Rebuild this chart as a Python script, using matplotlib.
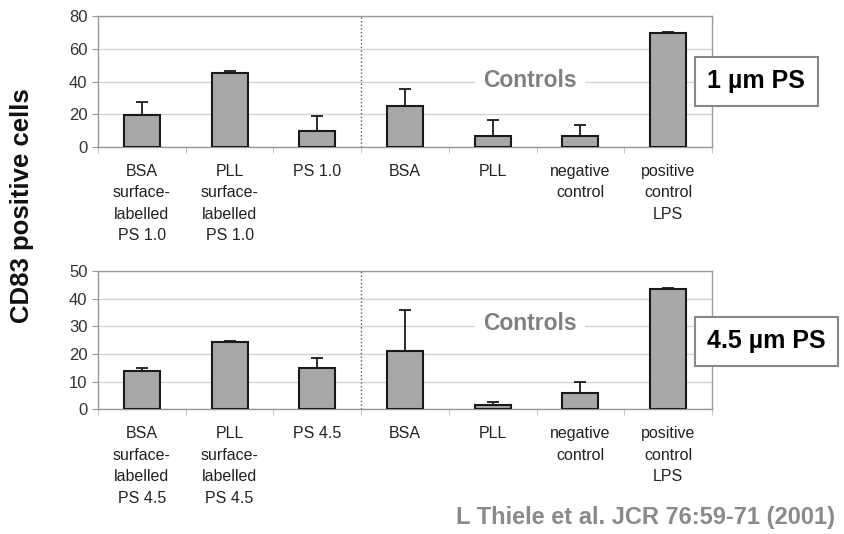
import matplotlib.pyplot as plt
import numpy as np

plt.rcParams['font.family'] = ['Liberation Sans', 'DejaVu Sans']

# Data
labels_top = ['BSA\nsurface-\nlabelled\nPS 1.0', 'PLL\nsurface-\nlabelled\nPS 1.0', 'PS 1.0',
              'BSA', 'PLL', 'negative\ncontrol', 'positive\ncontrol\nLPS']
values_top = [19.5, 45.0, 9.8, 25.0, 6.9, 6.9, 69.6]
err_top = [8.0, 1.4, 8.9, 10.6, 9.4, 6.5, 0.8]

labels_bot = ['BSA\nsurface-\nlabelled\nPS 4.5', 'PLL\nsurface-\nlabelled\nPS 4.5', 'PS 4.5',
              'BSA', 'PLL', 'negative\ncontrol', 'positive\ncontrol\nLPS']
values_bot = [13.8, 24.3, 14.9, 21.2, 1.7, 6.0, 43.4]
err_bot = [1.0, 0.4, 3.8, 14.7, 1.0, 3.9, 0.5]

fig = plt.figure(figsize=(8.45, 5.34), dpi=100)
ax1 = fig.add_axes([0.116, 0.7247, 0.7266, 0.2453])
ax2 = fig.add_axes([0.116, 0.2335, 0.7266, 0.259])


def draw(ax, labels, values, errs, ymax, step, controls_y):
    x = np.arange(len(values))
    ax.set_axisbelow(True)
    ax.yaxis.grid(True, color='#d4d4d4', linewidth=1)
    ax.bar(x, values, width=0.41, color='#a8a8a8', edgecolor='#1a1a1a', linewidth=1.5, zorder=3)
    ax.errorbar(x, values, yerr=[np.zeros(len(errs)), errs], fmt='none',
                ecolor='#1a1a1a', elinewidth=1.3, capsize=4, capthick=1.3, zorder=2)
    ax.set_xlim(-0.5, len(values) - 0.5)
    ax.set_ylim(0, ymax)
    ax.set_yticks(np.arange(0, ymax + 1, step))
    ax.set_xticks(x)
    ax.set_xticklabels(labels, fontsize=11.5, linespacing=1.55, color='#222222')
    ax.set_xticks(np.arange(-0.5, len(values), 1), minor=True)
    ax.tick_params(axis='x', which='major', length=0, pad=12)
    ax.tick_params(axis='x', which='minor', length=4, color='#bbbbbb', direction='out')
    ax.tick_params(axis='y', length=4, color='#999999', labelsize=12, labelcolor='#333333')
    for s in ax.spines.values():
        s.set_color('#999999')
        s.set_linewidth(1)
    ax.axvline(2.5, color='#555555', linestyle=':', linewidth=1, zorder=1)
    ax.text(4.43, controls_y, 'Controls', fontsize=16.5, fontweight='bold', color='#808080',
            ha='center', va='center', zorder=4,
            bbox=dict(facecolor='white', edgecolor='none', pad=6))


draw(ax1, labels_top, values_top, err_top, 80, 20, 40.9)
draw(ax2, labels_bot, values_bot, err_bot, 50, 10, 31.1)

# Size labels in boxes
box = dict(facecolor='white', edgecolor='#888888', linewidth=1.5, boxstyle='square,pad=0.5')
fig.text(0.837, 0.848, '1 µm PS', fontsize=18, fontweight='bold', color='black',
         ha='left', va='center', bbox=box)
fig.text(0.837, 0.361, '4.5 µm PS', fontsize=18, fontweight='bold', color='black',
         ha='left', va='center', bbox=box)

fig.text(0.026, 0.614, 'CD83 positive cells', rotation=90, fontsize=18.5, fontweight='bold',
         ha='center', va='center', color='#111111')
fig.text(0.988, 0.03, 'L Thiele et al. JCR 76:59-71 (2001)', fontsize=17, fontweight='bold',
         color='#8a8a8a', ha='right', va='center')

fig.savefig('out.png', dpi=100)
